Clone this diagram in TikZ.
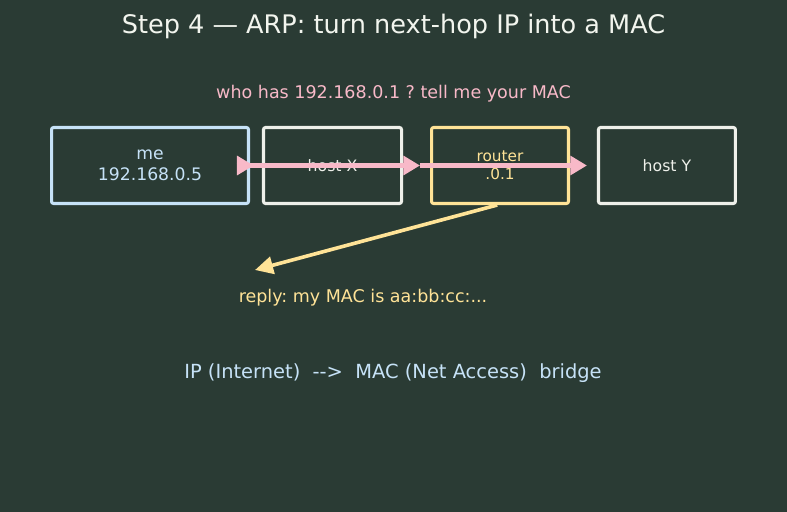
\documentclass[tikz,border=0pt]{standalone}
\usepackage{fontspec}
\setmainfont{DejaVu Sans}
\usetikzlibrary{arrows.meta,positioning}
\frenchspacing

\definecolor{bgdark}{HTML}{2A3B34}
\definecolor{meblue}{HTML}{C6E2F7}
\definecolor{hostgray}{HTML}{EEF0EA}
\definecolor{routeryel}{HTML}{FFE397}
\definecolor{askpink}{HTML}{F8B9C8}
\definecolor{titlewhite}{HTML}{F2F5EE}

\begin{document}
\begin{tikzpicture}[
  x=0.72pt, y=-0.72pt,
  hostbox/.style={draw, rounded corners=1.5pt, line width=2.2pt, align=center,
    minimum height=54.7pt, inner sep=0pt, font=\fontsize{11.3}{13.5}\selectfont},
  labeltext/.style={align=center, inner sep=0pt},
  askarr/.style={-{Triangle[length=12pt, width=13.5pt]}, askpink, line width=2.9pt},
  replyarr/.style={-{Triangle[length=13pt, width=12.5pt]}, routeryel, line width=2.6pt}
]
\fill[bgdark] (0,0) rectangle (787,512);
\useasboundingbox (0,0) rectangle (787,512);

\node[labeltext, titlewhite, font=\fontsize{18.4}{22}\selectfont] (title) at (393.5,26) {Step 4 — ARP: turn next-hop IP into a MAC};
\node[labeltext, askpink, font=\fontsize{12.6}{15}\selectfont] (ask) at (393.5,94) {who has 192.168.0.1 ? tell me your MAC};

% the four machines on the segment
\node[hostbox, meblue, minimum width=141.8pt, font=\fontsize{12.4}{15.5}\selectfont] (me) at (150,165.5) {me\\192.168.0.5};
\node[hostbox, hostgray, minimum width=99.4pt, right=8.6pt of me] (hostX) {host X};
\node[hostbox, routeryel, minimum width=98.6pt, right=19.4pt of hostX, font=\fontsize{11}{13}\selectfont] (router) {router\\.0.1};
\node[hostbox, hostgray, minimum width=98.6pt, right=19.4pt of router] (hostY) {host Y};

\node[labeltext, routeryel, font=\fontsize{12.6}{15}\selectfont] (reply) at (363,298) {reply: my MAC is aa:bb:cc:...};
\node[labeltext, meblue, font=\fontsize{14}{17}\selectfont] (bridge) at (393,373) {IP (Internet)\ \ -{}-{}>\ \ MAC (Net Access)\ \ bridge};
\coordinate (replytip) at (255,270);

% broadcast request
\draw[askarr] ([xshift=-9.4pt]me.east) -- ([xshift=-6pt]hostX.west);
\draw[askarr] ([xshift=-9.4pt]me.east) -- ([xshift=-7.2pt]router.west);
\draw[askarr] ([xshift=-7.2pt]router.west) -- ([xshift=-7.2pt]hostY.west);

% answer from the router
\draw[replyarr] ([xshift=-2pt]router.south) -- (replytip);
\end{tikzpicture}
\end{document}
